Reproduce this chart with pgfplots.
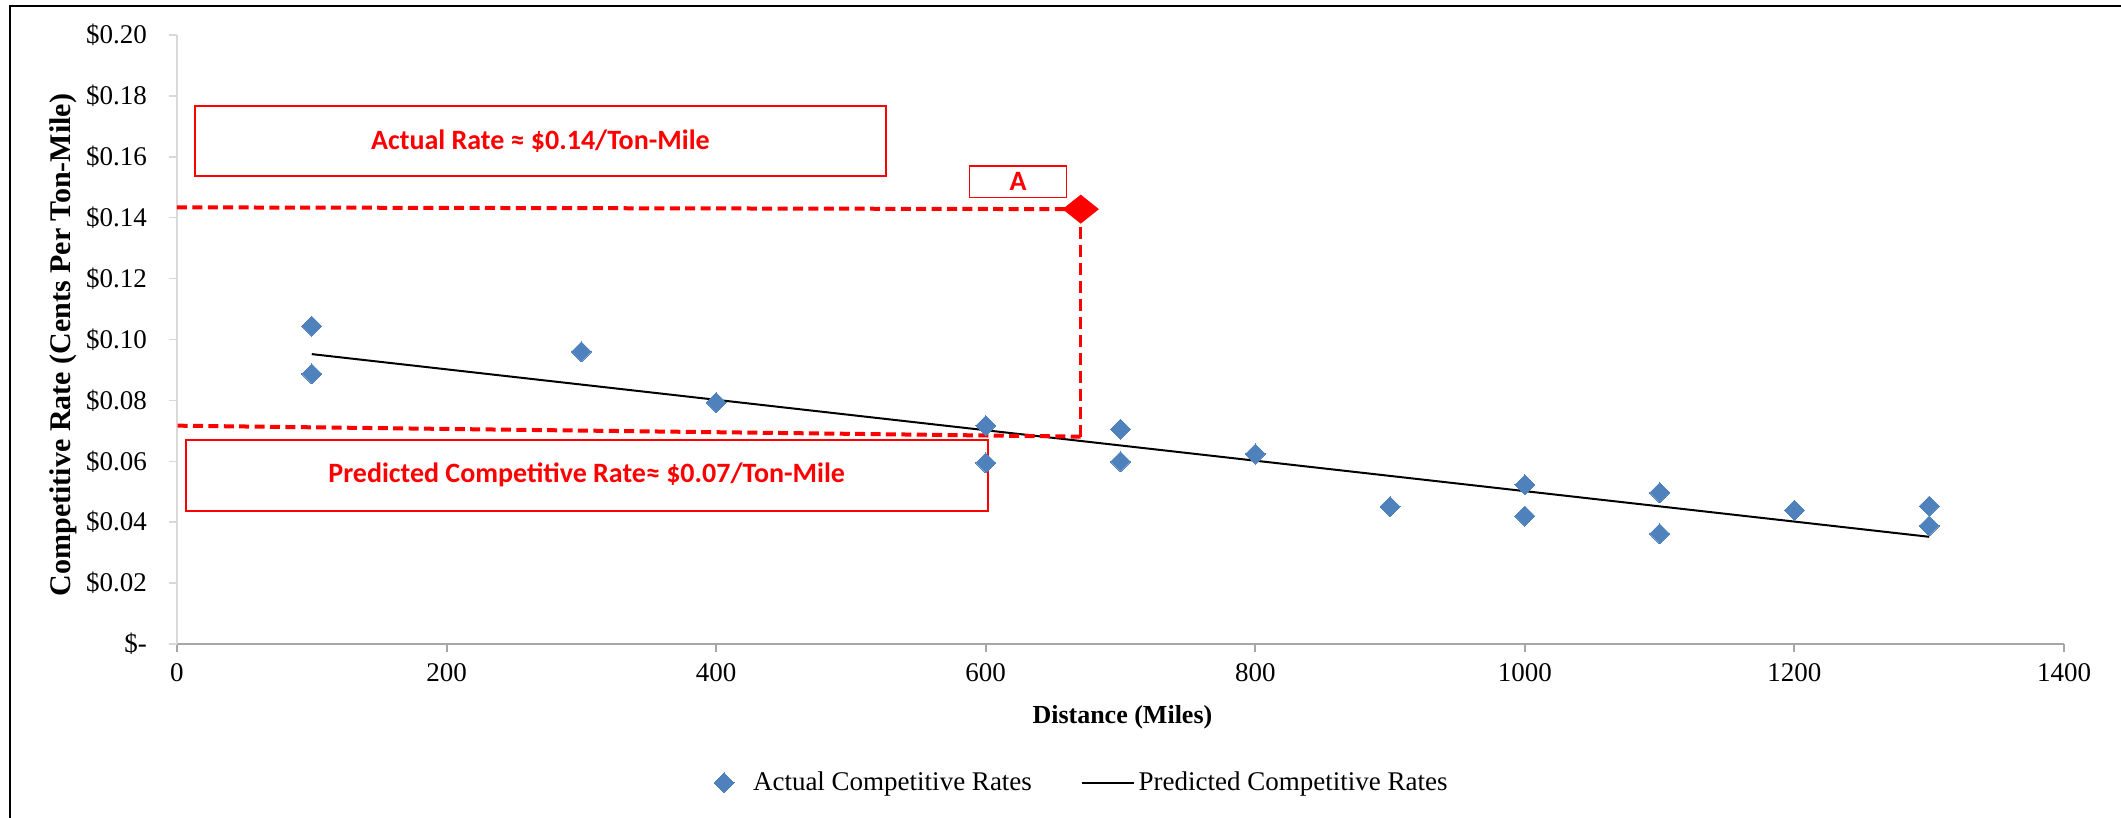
\documentclass[border=0pt]{standalone}
\usepackage{fontspec}
\setmainfont{Liberation Serif}
\newfontfamily\calibri{Carlito}
\usepackage{pgfplots}
\usepackage{pgfplotstable}
\pgfplotsset{compat=1.18}

\definecolor{ptblue}{HTML}{4F81BD}
\definecolor{axgray}{HTML}{A6A6A6}
\definecolor{axlight}{HTML}{D9D9D9}

% legend samples: a plain 26pt stroke for the trend line,
% a single mark with some trailing room for the scatter
\pgfplotsset{
  trendlegend/.style={legend image code/.code={\draw[##1] (0pt,0pt) -- (26pt,0pt);}},
  scatterlegend/.style={legend image code/.code={%
      \draw[##1] plot coordinates {(0pt,0pt)};
      \path[draw=none] (-5pt,0pt) -- (12.5pt,0pt);}},
}

% Observed competitive rates ($ per ton-mile) by haul distance
\pgfplotstableread{
dist rate
100  0.1044
100  0.0887
300  0.0960
400  0.0793
600  0.0717
600  0.0595
700  0.0706
700  0.0599
800  0.0624
900  0.0451
1000 0.0523
1000 0.0420
1100 0.0497
1100 0.0362
1200 0.0439
1300 0.0453
1300 0.0388
}\actualrates

% Fitted trend line
\pgfplotstableread{
dist rate
100  0.0952
1300 0.0352
}\predictedrates

\newcommand{\tickfont}{\fontsize{13.5pt}{15.5pt}\selectfont}

\begin{document}
\begin{tikzpicture}
\begin{axis}[
  scale only axis,
  width=943.5pt, height=304.5pt,
  xmin=0, xmax=1400, ymin=0, ymax=0.2,
  axis lines*=left,
  axis line style={-},
  x axis line style={draw=axgray, line width=1pt},
  y axis line style={draw=axlight, line width=0.75pt},
  tick align=outside,
  major tick length=4pt,
  xtick={0,200,...,1400},
  ytick={0,0.02,0.04,0.06,0.08,0.10,0.12,0.14,0.16,0.18,0.20},
  yticklabels={\$-\hspace{7.5pt},\$0.02,\$0.04,\$0.06,\$0.08,\$0.10,\$0.12,\$0.14,\$0.16,\$0.18,\$0.20},
  xtick style={draw=axgray, line width=1pt},
  ytick style={draw=axlight, line width=0.75pt},
  /pgf/number format/assume math mode=true,
  /pgf/number format/1000 sep={},
  tick label style={font=\tickfont},
  yticklabel style={xshift=-7.5pt},
  xticklabel style={yshift=-2pt},
  xlabel={Distance (Miles)},
  ylabel={Competitive Rate (Cents Per Ton-Mile)},
  xlabel style={font=\bfseries\fontsize{13pt}{15pt}\selectfont,
    at={(axis description cs:0.501,-0.1199)}, anchor=center},
  ylabel style={font=\bfseries\fontsize{15pt}{18pt}\selectfont,
    at={(axis description cs:-0.0600,0.491)}, anchor=center},
  legend columns=2,
  legend style={at={(axis description cs:0.480,-0.228)}, anchor=center,
    draw=none, fill=none, font=\tickfont,
    /tikz/every even column/.append style={column sep=22.3pt}},
  clip=false,
]

% annotation boxes
\draw[red, line width=0.9pt] (axis cs:13.2,0.1537) rectangle (axis cs:526,0.1768);
\node[text=red, font=\calibri\bfseries\fontsize{14pt}{16pt}\selectfont]
  at (axis cs:269.6,0.16525) {Actual Rate ≈ \$0.14/Ton-Mile};
\draw[red, line width=0.9pt] (axis cs:6.7,0.0438) rectangle (axis cs:601.5,0.0670);
\node[text=red, font=\calibri\bfseries\fontsize{14pt}{16pt}\selectfont]
  at (axis cs:304,0.0554) {Predicted Competitive Rate≈ \$0.07/Ton-Mile};
\draw[red, line width=0.9pt] (axis cs:588,0.1466) rectangle (axis cs:660,0.1571);
\node[text=red, font=\calibri\bfseries\fontsize{14pt}{16pt}\selectfont]
  at (axis cs:624,0.15185) {A};

% scatter of actual rates
\addplot[only marks, mark=square*, mark size=3.54pt, scatterlegend,
  mark options={rotate=45, fill=ptblue, draw=ptblue, line width=0pt}]
  table[x=dist, y=rate] {\actualrates};
\addlegendentry{Actual Competitive Rates}

% predicted (fitted) rates
\addplot[black, line width=1pt, mark=none, trendlegend]
  table[x=dist, y=rate] {\predictedrates};
\addlegendentry{Predicted Competitive Rates}

% guide lines for shipment A
\addplot[red, line width=2pt, dash pattern=on 5pt off 2.7pt, forget plot]
  coordinates {(0,0.1434) (670.5,0.1428)};
\addplot[red, line width=1.7pt, dash pattern=on 6pt off 3pt, forget plot]
  coordinates {(670.5,0.1428) (670.5,0.0681)};
\addplot[red, line width=2pt, dash pattern=on 5pt off 2.7pt, forget plot]
  coordinates {(670.5,0.0681) (0,0.0717)};

% shipment A
\addplot[only marks, mark=diamond*, mark size=7pt, forget plot,
  mark options={xscale=1.667, fill=red, draw=red}]
  coordinates {(670.5,0.1428)};
\end{axis}

% chart frame (top and left edges)
\draw[line width=1pt] (-83.5pt,-87pt) -- (-83.5pt,319.15pt) -- (972pt,319.15pt);

\pgfresetboundingbox
\path[use as bounding box] (-88.5pt,-87pt) rectangle (972pt,322pt);
\end{tikzpicture}
\end{document}
